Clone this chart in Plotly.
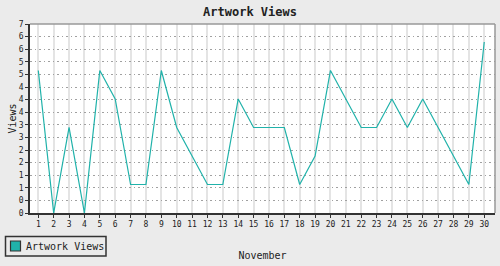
import plotly.graph_objects as go

days = list(range(1, 31))
views = [5, 0, 3, 0, 5, 4, 1, 1, 5, 3, 2, 1, 1, 4, 3, 3, 3, 1, 2, 5, 4, 3, 3, 4, 3, 4, 3, 2, 1, 6]
y_top = 6.63
y_ticktext = ["0", "0", "1", "1", "2", "2", "3", "3", "4", "4", "4", "5", "5", "6", "6", "7"]
y_tickvals = [y_top * i / 15 for i in range(16)]
series_name = "Artwork Views"

color = "#20b2aa"
font = "DejaVu Sans Mono"
W, H = 500, 266
L, R, T, B = 30, 5, 24, 53
pw, ph = W - L - R, H - T - B


def px(x):
    return (x - L) / pw


def py(y):
    return (H - B - y) / ph


fig = go.Figure()
fig.add_trace(go.Scatter(x=days, y=views, mode="lines", line=dict(color=color, width=1.2),
                         showlegend=False, name=series_name))

fig.update_layout(
    width=W, height=H,
    margin=dict(l=L, r=R, t=T, b=B, autoexpand=False),
    paper_bgcolor="#ebebeb", plot_bgcolor="white",
    font=dict(family=font, size=10, color="#222222"),
    showlegend=False,
    title=dict(text="<b>Artwork Views</b>", x=0.5, xanchor="center", y=1 - 12 / H, yanchor="middle",
               font=dict(family=font, size=12, color="#222222")),
    xaxis=dict(range=[0.46, 30.7], tickvals=days, ticktext=[str(d) for d in days],
               tickfont=dict(size=8), ticks="outside", ticklen=3, tickcolor="#333333",
               showgrid=True, gridcolor="#e4e4e4", gridwidth=1.5,
               showline=True, linecolor="#333333", linewidth=1.5,
               zeroline=False,
               title=dict(text="November", font=dict(size=10), standoff=24)),
    yaxis=dict(range=[0, y_top], tickvals=y_tickvals, ticktext=y_ticktext,
               tickfont=dict(size=8), ticks="outside", ticklen=3, tickcolor="#333333",
               showgrid=True, gridcolor="#a0a0a0", griddash="1.5px,3px", gridwidth=1,
               showline=True, linecolor="#333333", linewidth=1.5,
               zeroline=False,
               title=dict(text="Views", font=dict(size=10), standoff=0)),
    shapes=[
        dict(type="line", xref="paper", yref="paper", x0=0, x1=1, y0=1, y1=1,
             line=dict(color="#999999", width=1.5)),
        dict(type="line", xref="paper", yref="paper", x0=1, x1=1, y0=0, y1=1,
             line=dict(color="#999999", width=1.5)),
        # legend box
        dict(type="rect", xref="paper", yref="paper", x0=px(5.5), x1=px(106), y0=py(236.5), y1=py(256),
             line=dict(color="#333333", width=1.5), fillcolor="rgba(0,0,0,0)"),
        # legend swatch
        dict(type="rect", xref="paper", yref="paper", x0=px(10.5), x1=px(20.5), y0=py(241), y1=py(251),
             line=dict(color="#333333", width=1.2), fillcolor=color),
    ],
    annotations=[
        dict(text=series_name, xref="paper", yref="paper", x=px(24), y=py(246), xanchor="left",
             yanchor="middle", showarrow=False, font=dict(family=font, size=10, color="#222222")),
    ],
)

fig.write_html("out.html")
